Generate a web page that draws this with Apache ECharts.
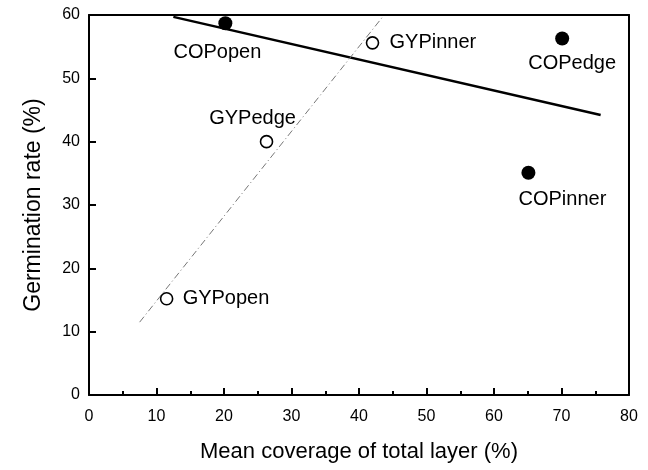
<!DOCTYPE html>
<html>
<head>
<meta charset="utf-8">
<script src="https://cdn.jsdelivr.net/npm/echarts@6/dist/echarts.min.js"></script>
<style>html,body{margin:0;padding:0;background:#fff}#c{width:648px;height:470px}</style>
</head>
<body>
<div id="c"></div>
<script>
// Data
const copNames = ['COPopen', 'COPedge', 'COPinner'];
const copX = [20.2, 70.1, 65.1];
const copY = [58.7, 56.3, 35.1];
const gypNames = ['GYPopen', 'GYPedge', 'GYPinner'];
const gypX = [11.5, 26.3, 42.0];
const gypY = [15.2, 40.0, 55.6];
const copFitX = [12.5, 75.8];
const copFitY = [59.7, 44.2];
const gypFitX = [7.5, 43.5];
const gypFitY = [11.5, 59.7];
const xTicks = [0, 10, 20, 30, 40, 50, 60, 70, 80];
const yTicks = [0, 10, 20, 30, 40, 50, 60];

// label placement (style only)
const labelPos = {
  COPopen: {align: 'center', offset: [-8, 29]},
  COPedge: {align: 'center', offset: [10, 25]},
  COPinner: {align: 'center', offset: [34, 27]},
  GYPopen: {align: 'left', offset: [16, 0]},
  GYPedge: {align: 'center', offset: [-14, -23]},
  GYPinner: {align: 'left', offset: [17, 0]}
};

const font = '"Liberation Sans", Arial, Helvetica, sans-serif';
function pts(names, xs, ys) {
  return names.map((n, i) => ({
    name: n, value: [xs[i], ys[i]],
    label: {show: true, position: 'inside', formatter: n, align: labelPos[n].align,
      verticalAlign: 'middle', offset: labelPos[n].offset,
      color: '#000', fontSize: 20, fontFamily: font}
  }));
}
function line(xs, ys) { return xs.map((x, i) => [x, ys[i]]); }

const chart = echarts.init(document.getElementById('c'), null, {renderer: 'canvas'});
const axisLine = {show: true, onZero: false, lineStyle: {color: '#000', width: 2}};
chart.setOption({
  animation: false,
  backgroundColor: '#fff',
  grid: {left: 89, right: 19, top: 15, bottom: 75},
  xAxis: [{
    type: 'value', min: xTicks[0], max: xTicks[xTicks.length - 1], interval: 10,
    name: 'Mean coverage of total layer (%)', nameLocation: 'middle', nameGap: 46,
    nameTextStyle: {fontSize: 22, color: '#000', fontFamily: font},
    axisLine: axisLine,
    axisTick: {show: true, inside: true, length: 7, lineStyle: {color: '#000', width: 2}},
    minorTick: {show: true, splitNumber: 2, length: 4, lineStyle: {color: '#000', width: 2}},
    axisLabel: {color: '#000', fontSize: 16, margin: 14, fontFamily: font},
    splitLine: {show: false}
  }, {
    type: 'value', position: 'top', min: 0, max: 80,
    axisLine: axisLine, axisTick: {show: false}, axisLabel: {show: false}, splitLine: {show: false}
  }],
  yAxis: [{
    type: 'value', min: yTicks[0], max: yTicks[yTicks.length - 1], interval: 10,
    name: 'Germination rate (%)', nameLocation: 'middle', nameGap: 44, nameRotate: 90,
    nameTextStyle: {fontSize: 23, color: '#000', fontFamily: font},
    axisLine: axisLine,
    axisTick: {show: true, inside: true, length: 7, lineStyle: {color: '#000', width: 2}},
    axisLabel: {color: '#000', fontSize: 16, margin: 9, fontFamily: font},
    splitLine: {show: false}
  }, {
    type: 'value', position: 'right', min: 0, max: 60,
    axisLine: axisLine, axisTick: {show: false}, axisLabel: {show: false}, splitLine: {show: false}
  }],
  series: [
    {
      type: 'line', data: line(copFitX, copFitY), showSymbol: false, symbol: 'none',
      lineStyle: {color: '#000', width: 2.5}, z: 2, silent: true
    },
    {
      type: 'line', data: line(gypFitX, gypFitY), showSymbol: false, symbol: 'none',
      lineStyle: {color: '#777', width: 1, type: [7, 3, 1, 3]}, z: 2, silent: true
    },
    {
      type: 'scatter', data: pts(copNames, copX, copY), symbol: 'circle', symbolSize: 14,
      itemStyle: {color: '#000', opacity: 1}, z: 3
    },
    {
      type: 'scatter', data: pts(gypNames, gypX, gypY), symbol: 'circle', symbolSize: 12,
      itemStyle: {color: '#fff', borderColor: '#000', borderWidth: 1.6, opacity: 1}, z: 3
    }
  ]
});
</script>
</body>
</html>
